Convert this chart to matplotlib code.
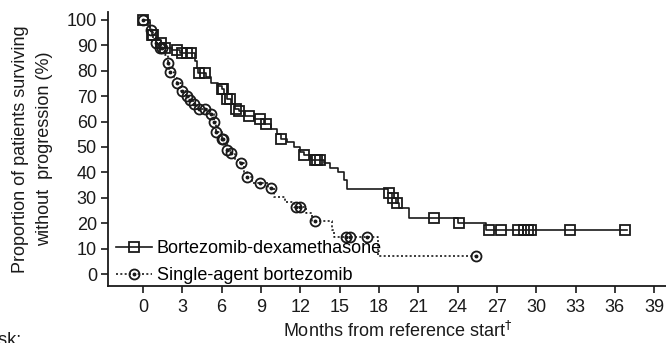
import matplotlib
matplotlib.use("Agg")
import matplotlib.pyplot as plt
import numpy as np
from matplotlib.lines import Line2D
from matplotlib.legend_handler import HandlerTuple

plt.rcParams['font.family'] = ['Liberation Sans', 'DejaVu Sans']

# ---- data (months, % surviving without progression) ----
bd_times = [0, 0.5, 0.7, 1.0, 1.4, 1.7, 2.2, 2.8, 4.0, 4.1, 4.2, 4.8, 5.2, 5.7, 6.0, 6.2, 6.4,
            6.7, 7.0, 7.3, 7.8, 8.5, 9.2, 9.8, 10.2, 10.5, 11.0, 11.5, 12.0, 12.3, 12.8,
            13.8, 14.3, 14.9, 15.3, 15.6, 18.7, 19.0, 19.3, 19.5, 20.3, 24.0, 26.2, 36.9]
bd_surv = [100, 96, 94, 92, 91, 89, 88, 87, 84, 81, 79, 77.6, 75, 74, 73, 71, 69,
           67, 65, 64, 62, 61, 59, 57, 55, 53, 52, 50, 48, 47, 45,
           43.7, 41.7, 40, 37, 33.5, 32, 30, 28, 26, 22, 20, 17.3, 17.3]
bd_cens = [0, 0.7, 0.8, 1.4, 1.7, 2.6, 3.0, 3.35, 3.65, 4.3, 4.7, 6.0, 6.1, 6.4, 6.6,
           7.1, 7.3, 8.1, 8.9, 9.4, 10.5, 12.3, 13.1, 13.3, 13.5, 18.75, 19.05, 19.4,
           22.2, 24.1, 26.4, 27.3, 28.6, 29.1, 29.35, 29.6, 32.6, 36.8]

sa_times = [0, 0.5, 0.8, 1.0, 1.3, 1.7, 1.9, 2.0, 2.4, 2.6, 2.9, 3.3, 3.5, 3.8, 4.1,
            5.0, 5.4, 5.6, 6.0, 6.2, 6.4, 6.6, 7.0, 7.4, 7.7, 7.9, 8.3, 9.5, 10.0,
            10.8, 11.5, 12.4, 12.9, 14.4, 14.6, 17.9, 25.4]
sa_surv = [100, 96, 93, 91, 89, 86, 83, 79.5, 77, 75, 72, 70, 68.5, 67, 65,
           63, 60, 56, 53, 51, 49, 47.5, 45, 43.5, 40, 38, 36, 34, 30.5,
           28.5, 26.5, 24, 21, 17.5, 14.6, 7.1, 7.1]
sa_cens = [0, 0.6, 1.0, 1.3, 1.45, 1.9, 2.05, 2.6, 3.0, 3.35, 3.6, 3.9, 4.3, 4.7, 5.2,
           5.45, 5.6, 6.0, 6.1, 6.4, 6.7, 7.5, 7.9, 8.9, 9.8, 11.7, 12.0, 13.1,
           15.5, 15.8, 17.1, 25.4]

x_ticks = [0, 3, 6, 9, 12, 15, 18, 21, 24, 27, 30, 33, 36, 39]
y_ticks = [0, 10, 20, 30, 40, 50, 60, 70, 80, 90, 100]
series_names = ['Bortezomib-dexamethasone', 'Single-agent bortezomib']


def step_at(times, surv, t):
    idx = np.searchsorted(np.asarray(times), t, side='right') - 1
    return np.asarray(surv)[np.clip(idx, 0, len(surv) - 1)]


W, H = 666, 343
FS = 13
fig = plt.figure(figsize=(W / 100, H / 100), dpi=100)
ax = fig.add_axes([108 / W, 1 - 286 / H, 1 - 108 / W, (286 - 12) / H])
col = '#1a1a1a'
lw = 1.2
dot_ls = (0, (1.2, 1.4))

ax.plot(bd_times, bd_surv, drawstyle='steps-post', color=col, lw=lw, zorder=3)
ax.plot(sa_times, sa_surv, drawstyle='steps-post', color=col, lw=lw,
        linestyle=dot_ls, zorder=3)

bd_y = step_at(bd_times, bd_surv, bd_cens)
sa_y = step_at(sa_times, sa_surv, sa_cens)
ax.plot(bd_cens, bd_y, ls='none', marker='s', ms=7.2, mfc='none', mec=col, mew=1.3, zorder=4)
ax.plot(sa_cens, sa_y, ls='none', marker='o', ms=7.2, mfc='none', mec=col, mew=1.3, zorder=4)
ax.plot(sa_cens, sa_y, ls='none', marker='o', ms=1.8, mfc=col, mec=col, zorder=4)

ax.set_xlim(-2.67, 39.9)
ax.set_ylim(-4.7, 103.1)
ax.set_xticks(x_ticks)
ax.set_yticks(y_ticks)
ax.tick_params(axis='x', direction='out', length=5, width=1.2, labelsize=FS, colors=col, pad=4)
ax.tick_params(axis='y', direction='out', length=5, width=1.2, labelsize=FS, colors=col, pad=3)
for s in ['top', 'right']:
    ax.spines[s].set_visible(False)
for s in ['left', 'bottom']:
    ax.spines[s].set_linewidth(1.3)
    ax.spines[s].set_color(col)

ax.set_xlabel('Months from reference start$^{\\dagger}$', fontsize=FS, color=col, labelpad=4)
ax.xaxis.label.set_x((398 - 108) / 558)
ax.set_ylabel('Proportion of patients surviving\nwithout  progression (%)', fontsize=FS,
              color=col, labelpad=10, linespacing=1.5)

h1 = Line2D([], [], color=col, lw=lw, marker='s', ms=7.2, mfc='none', mec=col, mew=1.3)
h2a = Line2D([], [], color=col, lw=lw, ls=dot_ls, marker='o', ms=7.2, mfc='none', mec=col, mew=1.3)
h2b = Line2D([], [], ls='none', marker='o', ms=1.8, mfc=col, mec=col)
ax.legend([h1, (h2a, h2b)], series_names, loc='lower left',
          bbox_to_anchor=(8 / 558, 2 / 274),
          frameon=False, fontsize=FS, handlelength=2.0, handletextpad=0.25,
          labelspacing=0.55, borderaxespad=0, borderpad=0,
          handler_map={tuple: HandlerTuple(ndivide=1, pad=0)})

fig.text(21 / W, 1 - 332 / H, 'At risk:', ha='right', va='top', fontsize=FS, color=col)

fig.savefig('out.png', dpi=100)
